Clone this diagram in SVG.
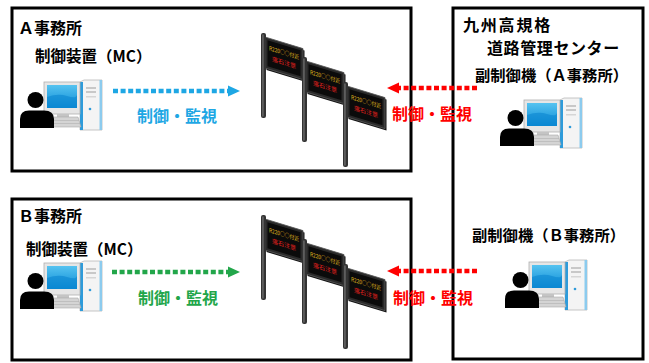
<svg xmlns="http://www.w3.org/2000/svg" xmlns:xlink="http://www.w3.org/1999/xlink" width="649" height="363" viewBox="0 0 649 363">
  <style>
    .frame { fill: #fff; stroke: #000; stroke-width: 3; }
    .lbl { font-family: "Noto Sans CJK JP", "Liberation Sans", sans-serif; font-weight: 700; fill: #000; }
    .blue { fill: #1EA7E4; }
    .green { fill: #22A64A; }
    .red { fill: #FF0000; }
    .dots { fill: none; stroke-width: 4.5; stroke-dasharray: 5 2.6; }
    .sg { font-family: "Noto Sans CJK JP", sans-serif; font-size: 6px; text-anchor: middle; }
  </style>
  <defs>
    <linearGradient id="scr" x1="0" y1="0" x2="0" y2="1">
      <stop offset="0" stop-color="#56C3F0"/>
      <stop offset="1" stop-color="#0A8BD6"/>
    </linearGradient>
    <!-- operator at a desktop PC -->
    <g id="pc">
      <!-- tower -->
      <polygon points="60,2 64,0 82,0 82,50 60,50" fill="#F4F4F4" stroke="#B8B8B8" stroke-width="0.8"/>
      <rect x="60" y="2" width="3" height="48" fill="#2E9BDA"/>
      <rect x="79.5" y="0" width="2.5" height="50" fill="#8CCBEE"/>
      <rect x="66" y="7" width="10" height="2" fill="#C8C8C8"/>
      <rect x="66" y="11" width="10" height="2" fill="#C8C8C8"/>
      <rect x="66" y="16" width="10" height="1.5" fill="#D6D6D6"/>
      <circle cx="70" cy="29" r="1.3" fill="#2E9BDA"/>
      <!-- monitor -->
      <rect x="24" y="2" width="36" height="32" fill="#E6E6E6" stroke="#B0B0B0" stroke-width="0.8"/>
      <rect x="27" y="5" width="30" height="23" fill="url(#scr)"/>
      <path d="M27,17 Q38,13 47,16 T57,15 L57,28 L27,28 Z" fill="#0A86D0" opacity="0.6"/>
      <rect x="37" y="34" width="12" height="3" fill="#C4C4C4"/>
      <!-- keyboard -->
      <polygon points="30,37 58,37 61,47 33,47" fill="#D4D4D4" stroke="#A8A8A8" stroke-width="0.6"/>
      <line x1="33" y1="40.5" x2="59" y2="40.5" stroke="#B0B0B0" stroke-width="0.6"/>
      <line x1="34" y1="43.5" x2="60" y2="43.5" stroke="#B0B0B0" stroke-width="0.6"/>
      <!-- person -->
      <circle cx="15.5" cy="20" r="8" fill="#000"/>
      <path d="M0,48 L0,39 Q0,30.5 9,30.5 L24,30.5 Q34,30.5 34,39 L34,48 Z" fill="#000"/>
    </g>
    <!-- roadside message sign on a pole -->
    <g id="sign">
      <g transform="translate(4,4) skewY(17)">
        <rect x="1.5" y="1.5" width="38" height="31" fill="#111"/>
        <rect x="0" y="0" width="38" height="31" fill="#2A2A2A" stroke="#5A5A5A" stroke-width="0.8"/>
        <rect x="2.5" y="2.5" width="33" height="26" fill="#0B0B0B"/>
        <text class="sg" x="19" y="12" fill="#E2BE1E" textLength="30" lengthAdjust="spacingAndGlyphs">R220○○付近</text>
        <text class="sg" x="19" y="22" fill="#E4211E">落石注意</text>
      </g>
      <rect x="0" y="0" width="5" height="85" rx="2" fill="#333"/>
      <rect x="1.4" y="1.5" width="1.1" height="82" fill="#7A7A7A"/>
    </g>
  </defs>

  <!-- office A -->
  <g id="officeA">
    <rect class="frame" x="12" y="8" width="399" height="163"/>
    <text class="lbl" x="18" y="34" font-size="16">Ａ事務所</text>
    <text class="lbl" x="35" y="62" font-size="15.5">制御装置（MC）</text>
    <use href="#pc" transform="translate(20,80)"/>
  </g>
  <g id="signsA">
    <use href="#sign" transform="translate(261,33)"/>
    <use href="#sign" transform="translate(302,57)"/>
    <use href="#sign" transform="translate(343,82)"/>
  </g>

  <!-- office B -->
  <g id="officeB">
    <rect class="frame" x="12" y="199" width="399" height="161"/>
    <text class="lbl" x="18" y="222" font-size="16">Ｂ事務所</text>
    <text class="lbl" x="26" y="255" font-size="15.5">制御装置（MC）</text>
    <use href="#pc" transform="translate(20,261)"/>
  </g>
  <g id="signsB">
    <use href="#sign" transform="translate(261,215)"/>
    <use href="#sign" transform="translate(302,239)"/>
    <use href="#sign" transform="translate(343,264)"/>
  </g>

  <!-- management center -->
  <g id="center">
    <rect class="frame" x="453" y="8" width="190" height="351"/>
    <text class="lbl" x="463" y="30.5" font-size="16" letter-spacing="1.8">九州高規格</text>
    <text class="lbl" x="487" y="54" font-size="16" letter-spacing="0.6">道路管理センター</text>
  </g>
  <g id="subA">
    <text class="lbl" x="475" y="81" font-size="15.3">副制御機（Ａ事務所）</text>
    <use href="#pc" transform="translate(500,98)"/>
  </g>
  <g id="subB">
    <text class="lbl" x="472" y="241" font-size="15.3">副制御機（Ｂ事務所）</text>
    <use href="#pc" transform="translate(505,260)"/>
  </g>

  <!-- control and monitoring links -->
  <g id="connectors">
    <line class="dots" x1="113" y1="91" x2="228" y2="91" stroke="#1EA7E4"/>
    <polygon points="228,85.5 240,91 228,96.5" fill="#1EA7E4"/>
    <text class="lbl blue" x="137" y="122" font-size="16">制御・監視</text>

    <line class="dots" x1="477" y1="88" x2="399" y2="88" stroke="#FF0000"/>
    <polygon points="399,82.5 387,88 399,93.5" fill="#FF0000"/>
    <text class="lbl red" x="392" y="120" font-size="16">制御・監視</text>

    <line class="dots" x1="112" y1="272" x2="228" y2="272" stroke="#22A64A"/>
    <polygon points="228,266.5 240,272 228,277.5" fill="#22A64A"/>
    <text class="lbl green" x="138" y="304" font-size="16">制御・監視</text>

    <line class="dots" x1="477" y1="271" x2="399" y2="271" stroke="#FF0000"/>
    <polygon points="399,265.5 387,271 399,276.5" fill="#FF0000"/>
    <text class="lbl red" x="393" y="304" font-size="16">制御・監視</text>
  </g>
</svg>
